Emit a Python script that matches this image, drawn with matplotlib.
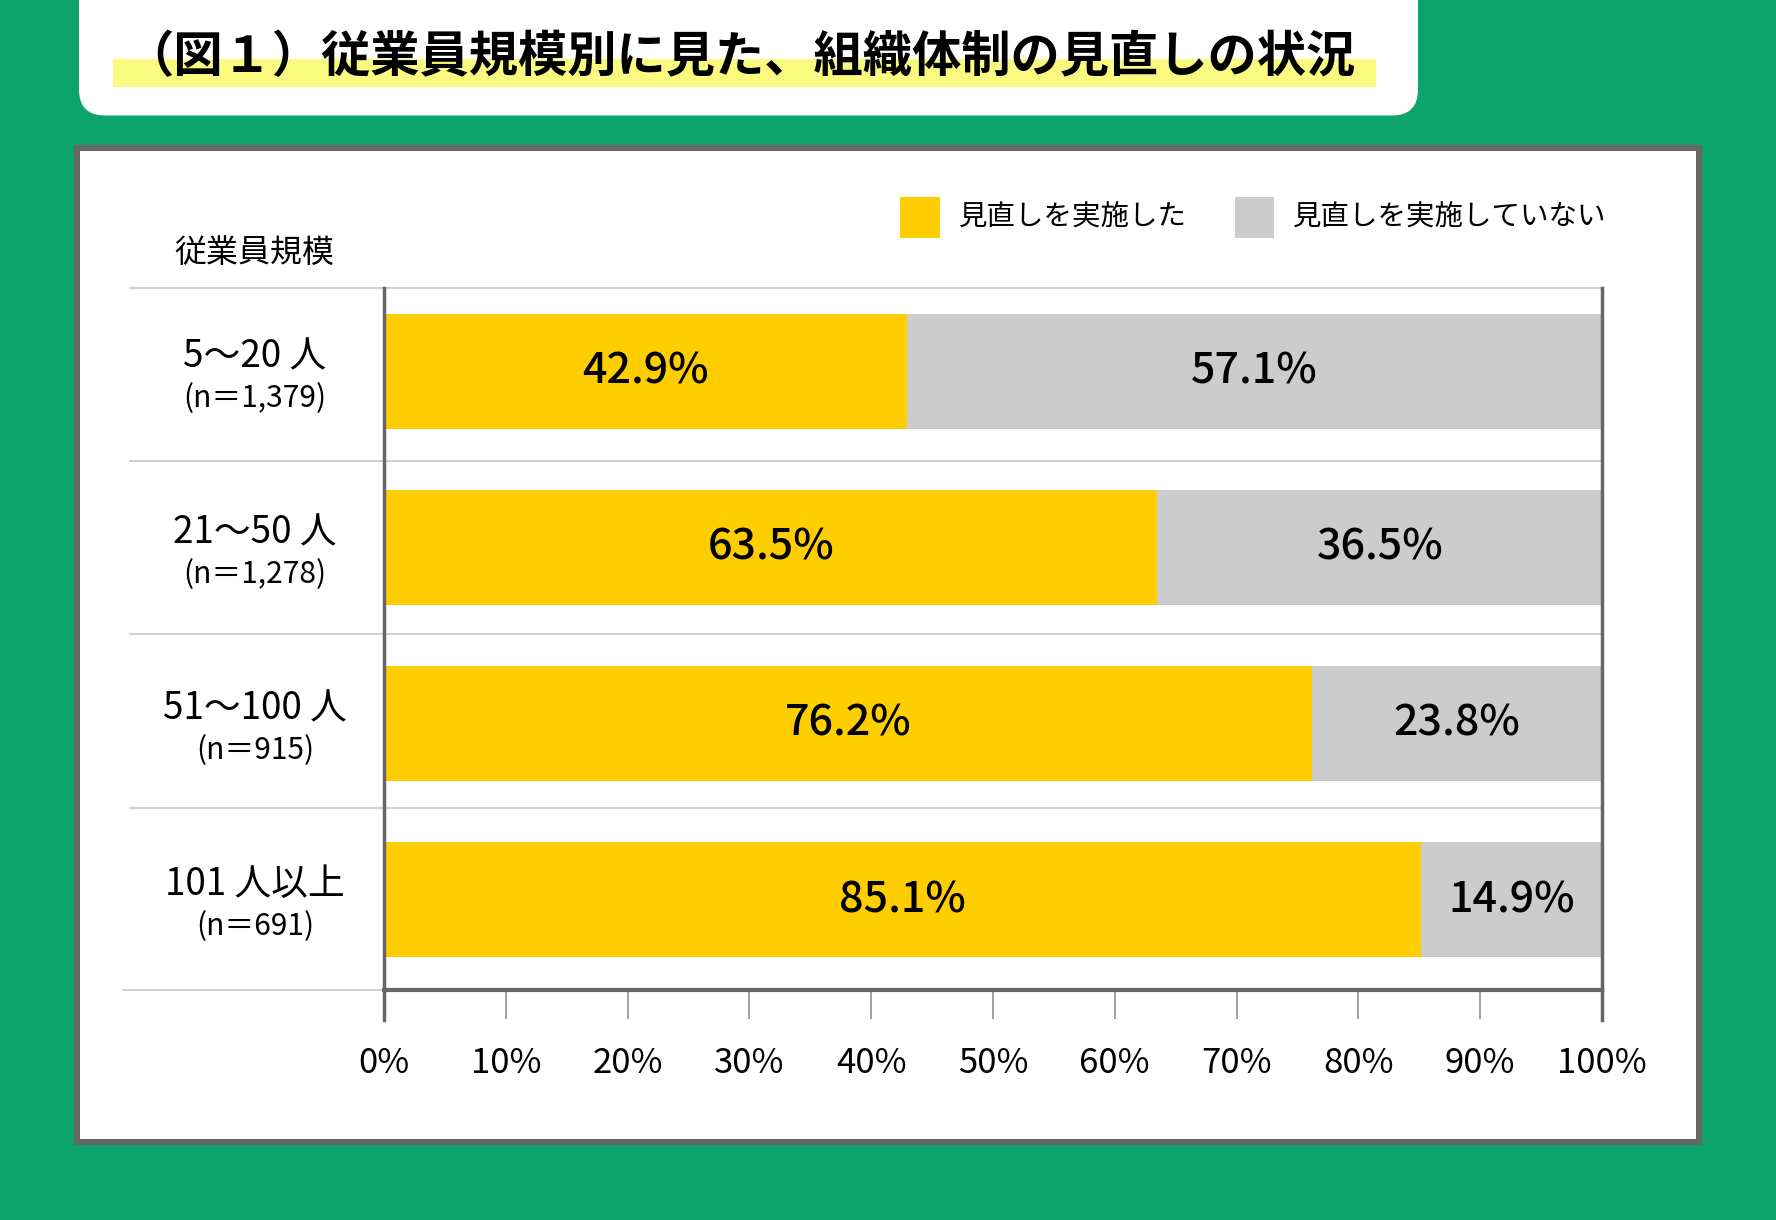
import matplotlib
matplotlib.use("Agg")
import matplotlib.pyplot as plt
from matplotlib.patches import FancyBboxPatch, Rectangle
from matplotlib.transforms import IdentityTransform, blended_transform_factory

plt.rcParams['font.family'] = ['Noto Sans CJK JP', 'DejaVu Sans']

title = "（図１）従業員規模別に見た、組織体制の見直しの状況"
header = "従業員規模"
categories = ["5～20 人", "21～50 人", "51～100 人", "101 人以上"]
sample_sizes = ["(n＝1,379)", "(n＝1,278)", "(n＝915)", "(n＝691)"]
series_names = ["見直しを実施した", "見直しを実施していない"]
done = [42.9, 63.5, 76.2, 85.1]
not_done = [57.1, 36.5, 23.8, 14.9]
xticks = [0, 10, 20, 30, 40, 50, 60, 70, 80, 90, 100]

GREEN = "#0ca36c"
YELLOW = "#ffce00"
GRAY = "#cccccc"
DARK = "#666666"
HILITE = "#fafa80"

W, H = 1776, 1220
fig = plt.figure(figsize=(W / 100, H / 100), dpi=100)
fig.patch.set_facecolor(GREEN)


def fx(x):
    return x / W


def fy(y):
    return 1 - y / H


# title card (pixel coords, origin bottom-left)
card = FancyBboxPatch((79, H - 115.5), 1418 - 79, 200,
                      boxstyle="round,pad=0,rounding_size=26",
                      transform=IdentityTransform(), fc="white", ec="none", zorder=-3)
fig.add_artist(card)
fig.add_artist(Rectangle((fx(113), fy(87)), fx(1376) - fx(113), fy(59) - fy(87),
                         transform=fig.transFigure, fc=HILITE, ec="none", zorder=-2))
fig.text(fx(740), fy(58), title, ha="center", va="center", fontsize=35.5,
         fontweight="bold", color="black")

# chart panel
fig.add_artist(Rectangle((fx(74), fy(1145)), fx(1702) - fx(74), fy(145) - fy(1145),
                         transform=fig.transFigure, fc=DARK, ec="none", zorder=-3))
fig.add_artist(Rectangle((fx(80), fy(1139)), fx(1696) - fx(80), fy(151) - fy(1139),
                         transform=fig.transFigure, fc="white", ec="none", zorder=-2))

ax = fig.add_axes([fx(384), fy(990), (1602 - 384) / W, (990 - 288) / H])
ax.set_facecolor("none")

y_top, y_bot = -0.474, 3.514
y = list(range(len(categories)))
ax.barh(y, done, height=0.656, color=YELLOW, zorder=2)
ax.barh(y, not_done, left=done, height=0.656, color=GRAY, zorder=2)
ax.set_xlim(0, 100)
ax.set_ylim(y_bot, y_top)

for i, (d, n) in enumerate(zip(done, not_done)):
    ax.text(d / 2, i, f"{d}%", ha="center", va="center", fontsize=31,
            fontweight="medium", zorder=3)
    ax.text(d + n / 2, i, f"{n}%", ha="center", va="center", fontsize=31,
            fontweight="medium", zorder=3)

# row separators, extending into the label column
for yv in [y_top, 0.508, 1.491, 2.48]:
    ax.axhline(yv, xmin=-0.2085, xmax=1, color="#c8c8c8", lw=1.2, clip_on=False, zorder=1)
ax.axhline(y_bot, xmin=-0.214, xmax=0, color="#c8c8c8", lw=1.2,
           clip_on=False, zorder=1)

ax.spines["top"].set_visible(False)
for side in ["left", "right"]:
    ax.spines[side].set_color(DARK)
    ax.spines[side].set_linewidth(2.5)
    ax.spines[side].set_zorder(4)
ax.spines["bottom"].set_color(DARK)
ax.spines["bottom"].set_linewidth(3)
ax.spines["bottom"].set_zorder(4)

ax.axvline(0, ymin=-30 / 702, ymax=0, color=DARK, lw=2.5, clip_on=False)
ax.axvline(100, ymin=-30 / 702, ymax=0, color=DARK, lw=2.5, clip_on=False)

ax.set_yticks([])
ax.set_xticks(xticks)
ax.set_xticklabels([f"{t}%" for t in xticks])
ax.tick_params(axis="x", length=21, width=1.1, color="#888888", pad=19, labelsize=25)

# category labels
lab_tr = blended_transform_factory(fig.transFigure, ax.transData)
for i, (c, s) in enumerate(zip(categories, sample_sizes)):
    fig.text(fx(255), i - 0.085, c, transform=lab_tr, ha="center", va="center", fontsize=26.5)
    fig.text(fx(255), i + 0.155, s, transform=lab_tr, ha="center", va="center", fontsize=21.5)

fig.text(fx(254), fy(253), header, ha="center", va="center", fontsize=23)

# legend
for (x0, x1), name, col in zip([(900, 940), (1235, 1274)], series_names, [YELLOW, GRAY]):
    fig.add_artist(Rectangle((fx(x0), fy(238)), fx(x1) - fx(x0), fy(197) - fy(238),
                             transform=fig.transFigure, fc=col, ec="none"))
    fig.text(fx(x1 + 19), fy(218), name, ha="left", va="center", fontsize=20.5)

fig.savefig("out.png", dpi=100, facecolor=fig.get_facecolor())
